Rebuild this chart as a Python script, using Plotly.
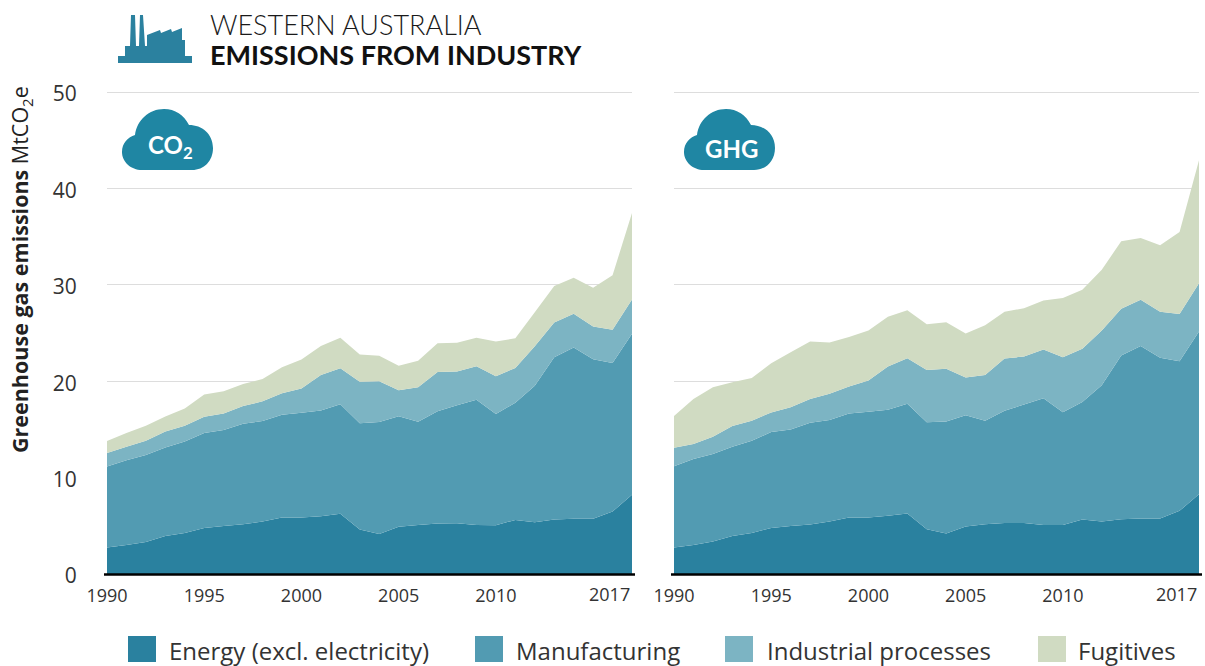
import re
import plotly.graph_objects as go

years = list(range(1990, 2018))
series_names = ["Energy (excl. electricity)", "Manufacturing", "Industrial processes", "Fugitives"]
series_colors = ["#2a819f", "#529bb2", "#7cb4c3", "#d0dbc2"]

co2_energy = [2.74, 3.01, 3.33, 3.95, 4.26, 4.78, 4.99, 5.16, 5.44, 5.86, 5.86, 5.99, 6.24, 4.61, 4.16, 4.89, 5.09, 5.23, 5.27, 5.09, 5.06, 5.61, 5.37, 5.65, 5.72, 5.72, 6.48, 8.21]
co2_manufacturing = [8.42, 8.80, 9.01, 9.18, 9.49, 9.84, 9.94, 10.43, 10.43, 10.67, 10.88, 10.98, 11.37, 11.02, 11.61, 11.47, 10.71, 11.64, 12.23, 12.99, 11.54, 12.16, 14.17, 16.84, 17.78, 16.56, 15.42, 16.70]
co2_industrial = [1.39, 1.39, 1.49, 1.66, 1.63, 1.70, 1.73, 1.84, 2.04, 2.22, 2.49, 3.67, 3.74, 4.30, 4.23, 2.70, 3.57, 4.09, 3.50, 3.47, 3.92, 3.60, 4.09, 3.60, 3.50, 3.40, 3.43, 3.57]
co2_fugitives = [1.25, 1.42, 1.56, 1.56, 1.80, 2.29, 2.29, 2.29, 2.32, 2.70, 3.01, 3.01, 3.15, 2.84, 2.63, 2.53, 2.74, 2.98, 2.98, 2.95, 3.60, 3.08, 3.53, 3.78, 3.74, 4.02, 5.65, 8.97]

ghg_energy = [2.74, 3.01, 3.36, 3.95, 4.26, 4.78, 4.99, 5.13, 5.44, 5.86, 5.86, 6.03, 6.27, 4.64, 4.19, 4.92, 5.16, 5.30, 5.30, 5.09, 5.09, 5.65, 5.44, 5.68, 5.75, 5.75, 6.55, 8.28]
ghg_manufacturing = [8.45, 8.91, 9.08, 9.25, 9.56, 9.94, 10.01, 10.57, 10.53, 10.78, 10.98, 11.02, 11.40, 11.09, 11.64, 11.54, 10.74, 11.64, 12.27, 13.13, 11.68, 12.20, 14.14, 16.98, 17.91, 16.67, 15.52, 16.87]
ghg_industrial = [1.91, 1.56, 1.80, 2.15, 2.08, 2.04, 2.29, 2.46, 2.74, 2.81, 3.22, 4.47, 4.71, 5.44, 5.47, 3.92, 4.75, 5.41, 4.99, 5.06, 5.72, 5.51, 5.68, 4.85, 4.78, 4.78, 4.89, 5.02]
ghg_fugitives = [3.29, 4.68, 5.13, 4.54, 4.44, 5.09, 5.72, 5.96, 5.30, 5.13, 5.20, 5.16, 4.99, 4.75, 4.82, 4.57, 5.16, 4.85, 5.02, 5.09, 6.13, 6.13, 6.31, 7.00, 6.41, 6.90, 8.52, 12.75]

x_ticks = [1990, 1995, 2000, 2005, 2010]
y_ticks = [0, 10, 20, 30, 40, 50]

W, H = 1205, 666
FONT = "Open Sans"
TXT = "#333333"


def px(x):
    return x / W


def py(y):
    return 1 - y / H


def path(d, dx=0):
    toks = re.findall(r"[MLCZ]|-?[\d.]+", d)
    out, isx = [], True
    for t in toks:
        if t in "MLCZ":
            out.append(t)
            isx = True
        else:
            v = float(t)
            out.append(f"{px(v + dx):.5f}" if isx else f"{py(v):.5f}")
            isx = not isx
    return " ".join(out)


def note(x, y, text, family=FONT, size=17, color=TXT, xanchor="center", **kw):
    return dict(x=px(x), y=py(y), xref="paper", yref="paper", showarrow=False, text=text, xanchor=xanchor,
                yanchor="middle", font=dict(family=family, size=size, color=color), **kw)


fig = go.Figure()
panels = [
    ("x", "y", [co2_energy, co2_manufacturing, co2_industrial, co2_fugitives], "co2"),
    ("x2", "y2", [ghg_energy, ghg_manufacturing, ghg_industrial, ghg_fugitives], "ghg"),
]
for xa, ya, values, group in panels:
    for name, color, vals in zip(series_names, series_colors, values):
        fig.add_trace(go.Scatter(
            x=years, y=vals, name=name, xaxis=xa, yaxis=ya, stackgroup=group, mode="none",
            fillcolor=color, showlegend=False, line=dict(width=0),
        ))

axis_x = dict(range=[1990, 2017], tickmode="array", tickvals=x_ticks, showgrid=False, zeroline=False, automargin=False,
              showline=False, ticks="outside", ticklen=5, tickcolor="rgba(0,0,0,0)",
              tickfont=dict(family=FONT, size=18, color=TXT))
axis_y = dict(range=[0, 50.2], tickmode="array", tickvals=y_ticks, showgrid=True, gridcolor="#dddddd", gridwidth=1, automargin=False,
              zeroline=False, showline=False, ticks="outside", ticklen=25, tickcolor="rgba(0,0,0,0)",
              ticklabelshift=2, tickfont=dict(family=FONT, size=21, color=TXT))

ydom = [py(574), py(90.07)]
shapes, annos = [], []

# baseline under each panel and 2017 end labels
for x0, x1 in [(107, 632), (674, 1199)]:
    shapes.append(dict(type="line", xref="paper", yref="paper", x0=px(x0 - 3), x1=px(x1 + 3), y0=py(574.5), y1=py(574.5),
                       line=dict(color="#000000", width=2.5), layer="above"))
    annos.append(note(x1, 594, "2017", size=18, xanchor="right"))

# clouds
CLOUD = "M 142,170 C 131,170 122,162 122,152 C 122,143 128,137 135,135 C 137,120 149,109 164,109 C 175,109 184,115 189,125 C 202,125 213,134 213,148 C 213,161 204,170 192,170 Z"
for dx in (0, 562):
    shapes.append(dict(type="path", xref="paper", yref="paper", path=path(CLOUD, dx), fillcolor="#1f86a3", line=dict(width=0), layer="above"))
annos.append(note(170, 147, "<b>CO<sub>2</sub></b>", family="Lato", size=24, color="#ffffff"))
annos.append(note(731, 148, "<b>GHG</b>", family="Lato", size=24, color="#ffffff"))

# factory icon
FACTORY = "M 118,63 L 118,56 L 125,56 L 125,46 L 130,46 L 131,15 L 135,15 L 136,46 L 139,46 L 140,15 L 143,15 L 145,46 L 147,46 L 147,35 L 160,30 L 161,33 L 171,29 L 172,32 L 182,28 L 182,40 L 185,40 L 185,56 L 192,56 L 192,63 Z"
shapes.append(dict(type="path", xref="paper", yref="paper", path=path(FACTORY), fillcolor="#2b819f", line=dict(width=0)))

# title
annos.append(note(208, 25, "WESTERN AUSTRALIA", family="Lato Light, Lato", size=27, color="#1a1a1a", xanchor="left"))
annos.append(note(208, 55, "<b>EMISSIONS FROM INDUSTRY</b>", family="Lato", size=27, color="#111111", xanchor="left"))

# y axis title
annos.append(note(21, 270, "<b>Greenhouse gas emissions</b> MtCO<sub>2</sub>e", size=21.5, color="#222222", textangle=-90))

# legend
for name, color, sx, tx in zip(series_names, series_colors, [128, 475, 725, 1038], [167, 514, 765, 1076]):
    shapes.append(dict(type="rect", xref="paper", yref="paper", x0=px(sx), x1=px(sx + 28), y0=py(636), y1=py(662),
                       fillcolor=color, line=dict(width=0)))
    annos.append(note(tx, 650, name, size=24, xanchor="left"))

fig.update_layout(
    width=W, height=H, margin=dict(l=0, r=0, t=0, b=0), paper_bgcolor="#ffffff", plot_bgcolor="#ffffff",
    showlegend=False, shapes=shapes, annotations=annos,
    xaxis={**axis_x, "domain": [px(107), px(632)], "anchor": "y"},
    xaxis2={**axis_x, "domain": [px(674), px(1199)], "anchor": "y2"},
    yaxis={**axis_y, "domain": ydom, "anchor": "x"},
    yaxis2={**axis_y, "domain": ydom, "anchor": "x2", "showticklabels": False},
)
fig.write_html("out.html", config={"displayModeBar": False}, post_script="document.body.style.margin='0';")
